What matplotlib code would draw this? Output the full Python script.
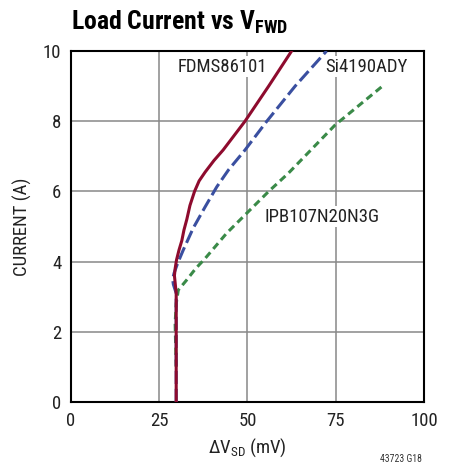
import matplotlib.pyplot as plt

# data (mV, A)
fdms_x = [29.8, 29.8, 29.5, 29.3, 29.5, 29.9, 30.6, 31.4, 32.0, 32.8, 33.7, 35.0, 36.3, 38.0, 40.5, 43.1, 49.3, 56.0, 62.5]
fdms_y = [0.0, 3.1, 3.4, 3.6, 3.8, 4.05, 4.33, 4.6, 4.9, 5.2, 5.6, 6.0, 6.3, 6.55, 6.88, 7.18, 8.0, 9.0, 10.0]
si_x = [29.8, 29.8, 29.0, 28.8, 29.2, 30.2, 31.8, 34.6, 38.0, 41.3, 44.6, 49.3, 55.4, 63.5, 72.4]
si_y = [0.0, 3.1, 3.35, 3.5, 3.67, 3.95, 4.33, 4.95, 5.56, 6.13, 6.61, 7.18, 7.99, 9.0, 10.0]
ipb_x = [29.8, 29.6, 29.5, 29.8, 30.4, 32.8, 35.3, 38.0, 44.1, 49.8, 55.9, 61.6, 74.8, 88.0]
ipb_y = [1.0, 1.8, 2.24, 2.8, 3.19, 3.48, 3.8, 4.09, 4.81, 5.38, 5.99, 6.52, 7.89, 8.98]

xticks = [0, 25, 50, 75, 100]
yticks = [0, 2, 4, 6, 8, 10]

plt.rcParams['font.family'] = ['Roboto Condensed', 'DejaVu Sans']

fig = plt.figure(figsize=(4.56, 4.65), dpi=100)
ax = fig.add_axes([0.1557, 0.1355, 0.7741, 0.7548])

ax.plot(ipb_x, ipb_y, color='#3a8a48', lw=2.2, dashes=(2.4, 1.5), zorder=3)
ax.plot(si_x, si_y, color='#3a4fa0', lw=2.2, dashes=(4.3, 1.6), zorder=4)
ax.plot(fdms_x, fdms_y, color='#8e0b2e', lw=2.2, zorder=5)

ax.set_xlim(0, 100)
ax.set_ylim(0, 10)
ax.set_xticks(xticks)
ax.set_yticks(yticks)
ax.tick_params(length=0, labelsize=13.5, colors='#222222')
ax.tick_params(axis='x', pad=7)
ax.tick_params(axis='y', pad=7)
ax.grid(True, color='#888888', lw=1.1)
for s in ax.spines.values():
    s.set_linewidth(1.5)
    s.set_color('black')

ax.set_xlabel('ΔV$_{\\mathregular{SD}}$ (mV)', fontsize=13.5, color='#222222', labelpad=5)
ax.set_ylabel('CURRENT (A)', fontsize=13.5, color='#222222', labelpad=8)

box = dict(facecolor='white', edgecolor='none', pad=1)
ax.text(43, 9.55, 'FDMS86101', fontsize=13.5, color='#222222', ha='center', va='center', bbox=box, zorder=6)
ax.text(83.8, 9.55, 'Si4190ADY', fontsize=13.5, color='#222222', ha='center', va='center', bbox=box, zorder=6)
ax.text(71, 5.28, 'IPB107N20N3G', fontsize=13.5, color='#222222', ha='center', va='center', bbox=box, zorder=6)

fig.text(0.156, 0.952, 'Load Current vs V$_{\\mathregular{FWD}}$', fontsize=18.5,
         fontweight='bold', ha='left', va='center')
fig.text(0.925, 0.013, '43723 G18', fontsize=7, ha='right', va='center', color='#333333')

fig.savefig('out.png', dpi=100)
plt.close()
